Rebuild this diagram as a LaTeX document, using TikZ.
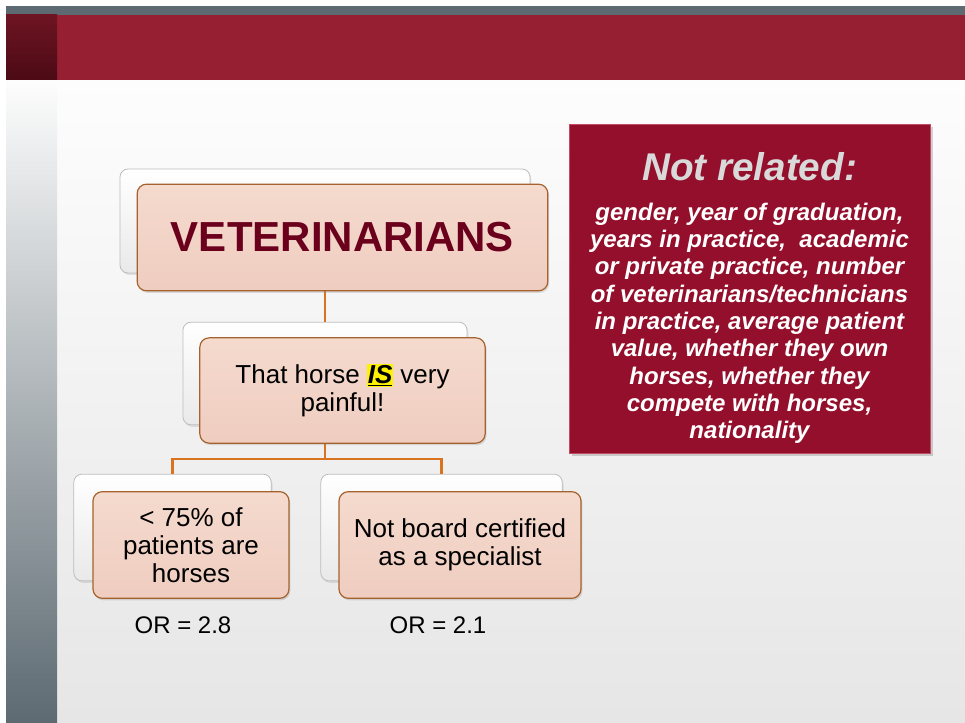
\documentclass[tikz,border=0pt]{standalone}
\usepackage{fontspec}
\setmainfont{Liberation Sans}
\usetikzlibrary{shadows}

\definecolor{bargray}{HTML}{5D6A72}
\definecolor{barred}{HTML}{971F32}
\definecolor{bardark}{HTML}{6E1422}
\definecolor{bardeep}{HTML}{4B0B15}
\definecolor{slidetop}{HTML}{FDFDFD}
\definecolor{slidebot}{HTML}{E6E6E6}
\definecolor{stripmid}{HTML}{B9BDC0}
\definecolor{cardgray}{HTML}{BDBDBD}
\definecolor{cardshade}{HTML}{E9E9E9}
\definecolor{cardedge}{HTML}{A5622C}
\definecolor{peachtop}{HTML}{F5DACE}
\definecolor{peachbot}{HTML}{EFCDC0}
\definecolor{linkorange}{HTML}{D9731F}
\definecolor{vettext}{HTML}{6B001C}
\definecolor{notered}{HTML}{930F2B}
\definecolor{noteedge}{HTML}{C24A63}
\definecolor{notgray}{HTML}{D9D9D9}

\newcommand{\hilite}[1]{{\setlength{\fboxsep}{0.6pt}\colorbox{yellow}{\underline{\textbf{\textit{#1}}}}}}

\begin{document}
\begin{tikzpicture}[
    x=0.75pt, y=-0.75pt,
    backbox/.style={draw=cardgray, line width=0.6pt, rounded corners=6pt, top color=white, bottom color=cardshade,
        drop shadow={opacity=0.2, shadow xshift=1pt, shadow yshift=-1.5pt}},
    frontbox/.style={draw=cardedge, line width=0.9pt, rounded corners=7pt, top color=peachtop, bottom color=peachbot,
        align=center, font=\fontsize{19.5}{21}\selectfont,
        drop shadow={opacity=0.25, shadow xshift=1pt, shadow yshift=-1.5pt}},
    link/.style={draw=linkorange, line width=1.9pt},
    oddslabel/.style={font=\fontsize{18}{20}\selectfont},
    notebox/.style={draw=noteedge, line width=0.6pt, fill=notered, text=white, align=center,
        font=\fontsize{18}{20.5}\selectfont\bfseries\itshape,
        drop shadow={opacity=0.35, shadow xshift=2pt, shadow yshift=-2pt}}
]
    % Slide background
    \fill[white] (0,0) rectangle (965,723);
    \shade[top color=slidetop, bottom color=slidebot] (6,80) rectangle (965,723);
    \shade[top color=slidetop, middle color=stripmid, bottom color=bargray] (6,80) rectangle (57,723);
    \fill[bargray] (6,6) rectangle (965,15);
    \fill[barred] (6,15) rectangle (965,80);
    \shade[top color=bardark, bottom color=bardeep] (6,15) rectangle (57,80);

    % Back cards
    \node[backbox, minimum width=307.5pt, minimum height=78pt] (vetb) at (325,221) {};
    \node[backbox, minimum width=213pt, minimum height=77pt] (painb) at (325,373.5) {};
    \node[backbox, minimum width=148pt, minimum height=80pt] (horseb) at (172.5,527.5) {};
    \node[backbox, minimum width=181pt, minimum height=80pt] (certb) at (441.5,527.5) {};

    % Connectors
    \draw[link] (vetb.south) -- (painb.north);
    \draw[link] (painb.south) -- ++(0,34) -| (horseb.north);
    \draw[link] (painb.south) -- ++(0,34) -| (certb.north);

    % Front cards
    \node[frontbox, minimum width=308pt, minimum height=80pt, text=vettext,
        font=\fontsize{31.5}{34}\selectfont\bfseries] (vet) at (342.5,237.5) {VETERINARIANS};
    \node[frontbox, minimum width=214pt, minimum height=79pt] (pain) at (342.5,390.5) {That horse \hilite{IS} very\\painful!};
    \node[frontbox, minimum width=147pt, minimum height=80pt] (horse) at (191,545) {< 75\% of\\patients are\\horses};
    \node[frontbox, minimum width=181.5pt, minimum height=80pt] (cert) at (460,545) {Not board certified\\as a specialist};

    % Odds ratios
    \node[oddslabel] (orhorse) at (183,625) {OR = 2.8};
    \node[oddslabel] (orcert) at (438,625) {OR = 2.1};

    % Not related box
    \node[notebox, minimum width=270.75pt, minimum height=246.75pt] (notrel) at (749.5,288.5)
        {\rule{0pt}{35pt}{\fontsize{29}{32}\selectfont\color{notgray}Not related:}\\[9.5pt]
         gender, year of graduation,\\
         years in practice,\ \ academic\\
         or private practice, number\\
         of veterinarians/technicians\\
         in practice, average patient\\
         value, whether they own\\
         horses, whether they\\
         compete with horses,\\
         nationality};
\end{tikzpicture}
\end{document}
